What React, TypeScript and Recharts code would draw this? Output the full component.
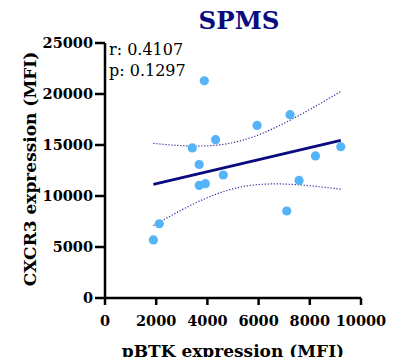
import { ScatterChart, Scatter, XAxis, YAxis } from 'recharts';

// pBTK vs CXCR3 per patient (MFI)
const pbtk = [1890, 2120, 3410, 3680, 3680, 3920, 3880, 4320, 4620, 5940, 7100, 7230, 7580, 8220, 9210];
const cxcr3 = [5690, 7280, 14710, 13090, 11040, 11210, 21300, 15520, 12060, 16920, 8530, 17970, 11530, 13930, 14830];

const xTicks = [0, 2000, 4000, 6000, 8000, 10000];
const yTicks = [0, 5000, 10000, 15000, 20000, 25000];

const title = 'SPMS';
const xTitle = 'pBTK expression (MFI)';
const yTitle = 'CXCR3 expression (MFI)';
const statLines = ['r: 0.4107', 'p: 0.1297'];

// two-sided 95% t value, df = n - 2 = 13
const T_95 = 2.1604;

const SERIF = '"DejaVu Serif", "Liberation Serif", serif';
const NAVY = '#0b0b80';
const DOT_BLUE = '#55b3f7';

const points = pbtk.map((x, i) => ({ x, y: cxcr3[i] }));

// least squares fit with 95% confidence band of the mean
function fit() {
  const n = pbtk.length;
  const mx = pbtk.reduce((a, b) => a + b, 0) / n;
  const my = cxcr3.reduce((a, b) => a + b, 0) / n;
  let sxx = 0, sxy = 0, syy = 0;
  pbtk.forEach((x, i) => {
    const dx = x - mx;
    const dy = cxcr3[i] - my;
    sxx += dx * dx;
    sxy += dx * dy;
    syy += dy * dy;
  });
  const slope = sxy / sxx;
  const s = Math.sqrt((syy - slope * sxy) / (n - 2));
  const lo = Math.min(...pbtk);
  const hi = Math.max(...pbtk);
  const line = [lo, hi].map(x => ({ x, y: my + slope * (x - mx) }));
  const upper: { x: number; y: number }[] = [];
  const lower: { x: number; y: number }[] = [];
  const steps = 40;
  for (let i = 0; i <= steps; i++) {
    const x = lo + ((hi - lo) * i) / steps;
    const yhat = my + slope * (x - mx);
    const half = T_95 * s * Math.sqrt(1 / n + ((x - mx) * (x - mx)) / sxx);
    upper.push({ x, y: yhat + half });
    lower.push({ x, y: yhat - half });
  }
  return { line, upper, lower };
}

const { line, upper, lower } = fit();

const noShape = () => <g />;
const dot = (p: any) => <circle cx={p.cx} cy={p.cy} r={4.6} fill={DOT_BLUE} />;

const tickStyle = { fill: '#000', fontFamily: SERIF, fontWeight: 'bold', fontSize: 14.5 };
const axisStroke = { stroke: '#000', strokeWidth: 2.5 };
const bandLine = { stroke: '#2a2aa0', strokeWidth: 1.2, strokeDasharray: '1.2 1.8' };

export default function App() {
  return (
    <div style={{ position: 'absolute', left: 0, top: 0, width: 395, height: 357, background: '#fff', overflow: 'hidden' }}>
      <ScatterChart width={395} height={357} margin={{ top: 43, right: 34, bottom: 0, left: 0 }}>
        <XAxis
          type="number"
          dataKey="x"
          domain={[0, 10000]}
          ticks={xTicks}
          interval={0}
          height={59}
          tickSize={7}
          tickMargin={11}
          tick={tickStyle}
          axisLine={axisStroke}
          tickLine={axisStroke}
        />
        <YAxis
          type="number"
          dataKey="y"
          domain={[0, 25000]}
          ticks={yTicks}
          interval={0}
          width={105}
          tickSize={10}
          tickMargin={2}
          tick={tickStyle}
          axisLine={axisStroke}
          tickLine={axisStroke}
        />
        <Scatter data={upper} line={bandLine} lineType="joint" shape={noShape} isAnimationActive={false} />
        <Scatter data={lower} line={bandLine} lineType="joint" shape={noShape} isAnimationActive={false} />
        <Scatter data={line} line={{ stroke: NAVY, strokeWidth: 2.8 }} lineType="joint" shape={noShape} isAnimationActive={false} />
        <Scatter data={points} fill={DOT_BLUE} shape={dot} isAnimationActive={false} />
      </ScatterChart>
      <svg width={395} height={357} style={{ position: 'absolute', left: 0, top: 0, pointerEvents: 'none' }}>
        <text x={239} y={29} textAnchor="middle" fontFamily={SERIF} fontWeight="bold" fontSize={24.5} fill={NAVY}>
          {title}
        </text>
        {statLines.map((s, i) => (
          <text key={s} x={109} y={55 + i * 21} fontFamily={SERIF} fontSize={16} fill="#000">
            {s}
          </text>
        ))}
        <text x={233} y={357} textAnchor="middle" fontFamily={SERIF} fontWeight="bold" fontSize={17} fill="#000">
          {xTitle}
        </text>
        <text
          x={36}
          y={169}
          transform="rotate(-90 36 169)"
          textAnchor="middle"
          fontFamily={SERIF}
          fontWeight="bold"
          fontSize={17}
          fill="#000"
        >
          {yTitle}
        </text>
      </svg>
    </div>
  );
}
